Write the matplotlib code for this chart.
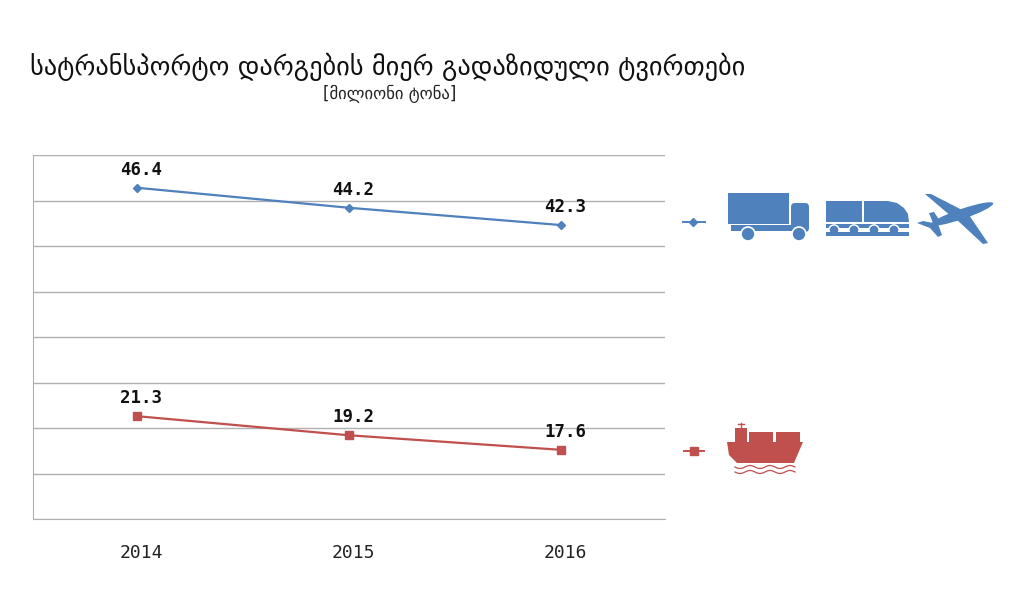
"""Georgian freight-by-transport-mode line chart (million tonnes), 2014-2016."""
import matplotlib
matplotlib.use("Agg")
import matplotlib.pyplot as plt
import matplotlib.transforms as mtransforms
from matplotlib.patches import Rectangle, Polygon, Circle, FancyBboxPatch, Ellipse
import numpy as np

BLUE, RED, GRID = "#4F81BD", "#C0504D", "#B0B0B0"

years = ["2014", "2015", "2016"]
land_air = [46.4, 44.2, 42.3]      # road + rail + air
sea = [21.3, 19.2, 17.6]           # maritime
title = "სატრანსპორტო დარგების მიერ გადაზიდული ტვირთები"
subtitle = "[მილიონი ტონა]"

fig = plt.figure(figsize=(10.24, 6.13), dpi=100)
ax = fig.add_axes([33 / 1024, 1 - 519 / 613, 632 / 1024, 364 / 613])

x = np.arange(len(years))
ax.plot(x, land_air, color=BLUE, lw=1.6, marker="D", ms=4.5, zorder=3)
ax.plot(x, sea, color=RED, lw=1.6, marker="s", ms=5.5, zorder=3)

for series in (land_air, sea):
    for xi, v in zip(x, series):
        ax.annotate(f"{v:.1f}", (xi, v), xytext=(3, 6.5), textcoords="offset points",
                    ha="center", va="bottom", fontsize=12.5, fontweight="bold",
                    family="DejaVu Sans Mono", color="#111")

ax.set_xlim(-0.49, 2.49); ax.set_ylim(10, 50)
ax.set_yticks(np.arange(10, 51, 5)); ax.set_yticklabels([])
ax.tick_params(axis="y", length=0)
ax.set_xticks(x); ax.set_xticklabels(years, fontsize=13, family="DejaVu Sans Mono", color="#222")
ax.tick_params(axis="x", length=0, pad=18)
shift = mtransforms.ScaledTranslation(4 / 100, 0, fig.dpi_scale_trans)
for lbl in ax.get_xticklabels():
    lbl.set_transform(lbl.get_transform() + shift)
ax.grid(axis="y", color=GRID, lw=1)
ax.set_axisbelow(True)
for s in ("top", "right"):
    ax.spines[s].set_visible(False)
ax.spines["left"].set_color(GRID); ax.spines["bottom"].set_color(GRID)

fig.text(30 / 1024, 1 - 67 / 613, title, fontsize=19, va="center", ha="left",
         family="DejaVu Sans", color="#111")
fig.text(390 / 1024, 1 - 94 / 613, subtitle, fontsize=12, va="center", ha="center",
         family="DejaVu Sans", color="#222")

# ---------------------------------------------------------------- icons / legend (pixel overlay)
ov = fig.add_axes([0, 0, 1, 1]); ov.set_xlim(0, 1024); ov.set_ylim(613, 0); ov.axis("off")

# legend swatches
ov.plot([683, 705], [222, 222], color=BLUE, lw=1.4)
ov.plot([693], [222], marker="D", color=BLUE, ms=4)
ov.plot([684, 704], [451, 451], color=RED, lw=1.4)
ov.plot([694], [451], marker="s", color=RED, ms=5.5)

# truck
ov.add_patch(Rectangle((728, 193), 61, 31, fc=BLUE, ec="none"))
ov.add_patch(FancyBboxPatch((791, 203), 18, 29, boxstyle="round,pad=0,rounding_size=4", fc=BLUE, ec="none"))
ov.add_patch(Rectangle((731, 225), 62, 6, fc=BLUE, ec="none"))
for cx in (748, 799):
    ov.add_patch(Circle((cx, 234), 7, fc=BLUE, ec="white", lw=1.2))

# train
ov.add_patch(Rectangle((826, 201), 36, 21, fc=BLUE, ec="none"))
ov.add_patch(Polygon([(864, 201), (888, 201), (897, 203), (904, 208), (908, 214), (909, 222), (864, 222)],
                     closed=True, fc=BLUE, ec="none"))
ov.add_patch(Rectangle((826, 223.5), 83, 4, fc=BLUE, ec="none"))
for cx in (834, 854, 874, 894):
    ov.add_patch(Circle((cx, 230), 5.8, fc="white", ec="none"))
    ov.add_patch(Circle((cx, 230), 4.3, fc=BLUE, ec="none"))
ov.add_patch(Rectangle((826, 232), 83, 3.5, fc=BLUE, ec="none"))

# plane
ov.add_patch(Ellipse((962, 214), 66, 10, angle=-19, fc=BLUE, ec="none"))
ov.add_patch(Polygon([(925, 194), (931, 194), (964, 211), (952, 217)], closed=True, fc=BLUE, ec="none"))
ov.add_patch(Polygon([(956, 219), (969, 215), (988, 243), (983, 244)], closed=True, fc=BLUE, ec="none"))
ov.add_patch(Polygon([(917, 223), (923, 221), (938, 224), (942, 235), (938, 237), (930, 228)],
                     closed=True, fc=BLUE, ec="none"))
ov.add_patch(Polygon([(929, 213), (934, 212), (940, 221), (933, 223)], closed=True, fc=BLUE, ec="none"))
for ex, ey in ((944, 203), (952, 207), (974, 230), (980, 236)):
    ov.add_patch(Circle((ex, ey), 2, fc=BLUE, ec="none"))

# ship
ov.add_patch(Polygon([(727, 442), (803, 442), (794, 463), (737, 463), (729, 455)],
                     closed=True, fc=RED, ec="none"))
ov.add_patch(Rectangle((735, 428), 12, 15, fc=RED, ec="none"))
ov.plot([741, 741], [423, 428], color=RED, lw=1)
ov.plot([738, 744], [424, 424], color=RED, lw=1)
ov.add_patch(Rectangle((749, 432), 24, 11, fc=RED, ec="none"))
ov.add_patch(Rectangle((776, 432), 24, 11, fc=RED, ec="none"))
wx = np.linspace(735, 795, 80)
for wy in (467, 472):
    ov.plot(wx, wy + 1.5 * np.sin((wx - 735) / 60 * 2 * np.pi * 3), color=RED, lw=0.9)

fig.savefig("out.png", dpi=100)
